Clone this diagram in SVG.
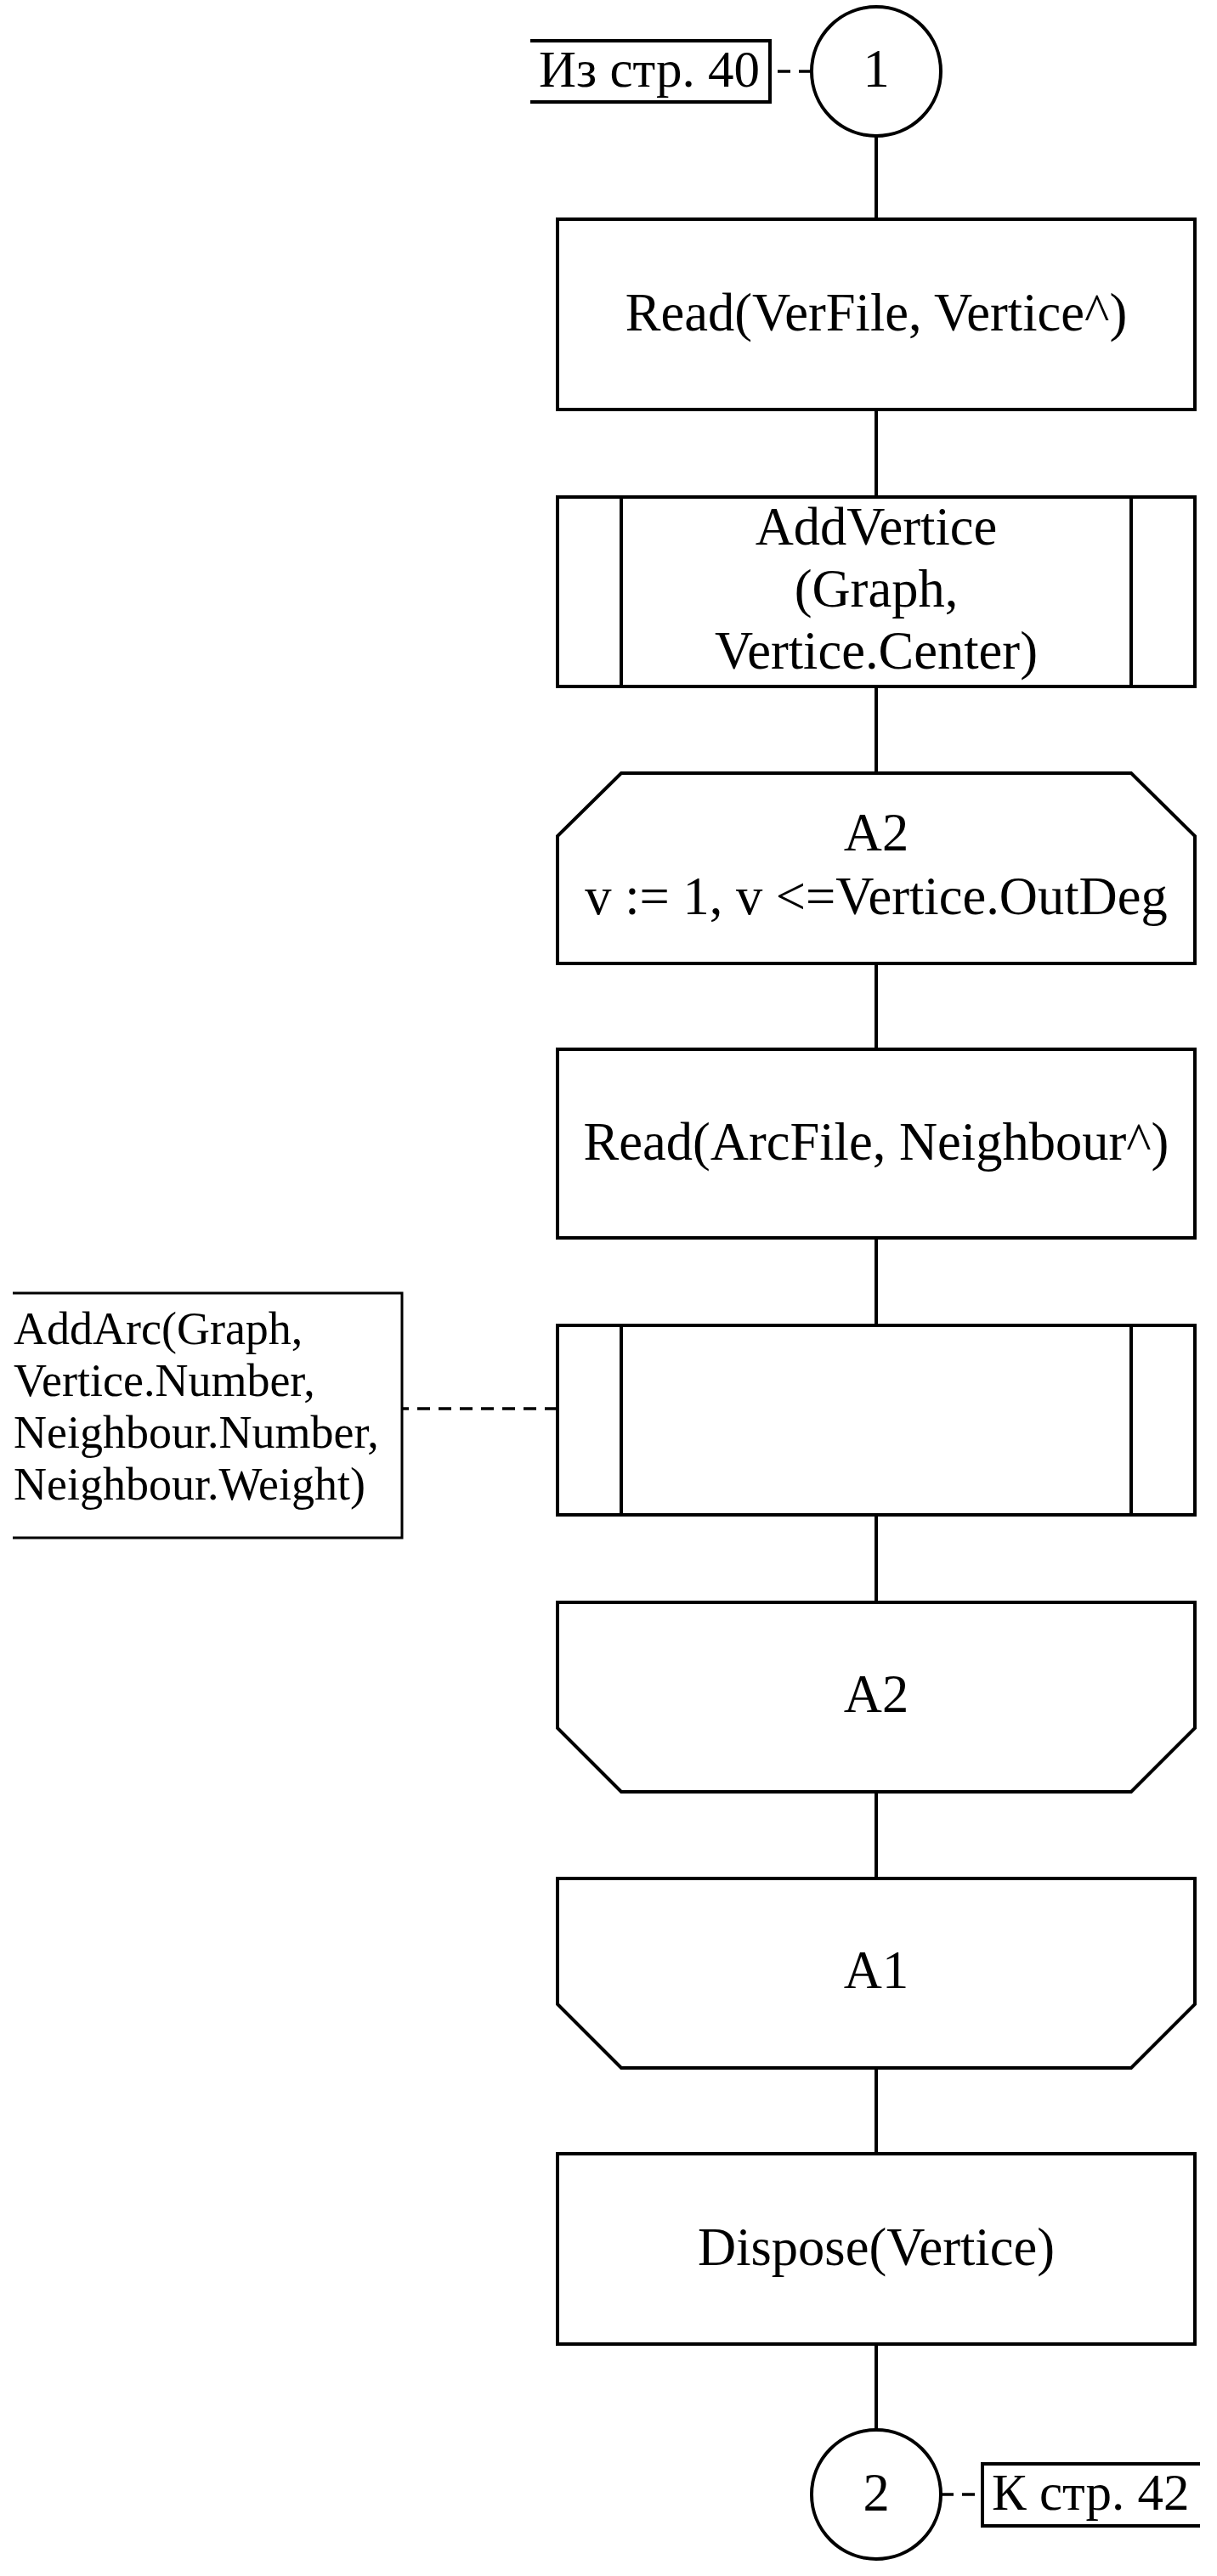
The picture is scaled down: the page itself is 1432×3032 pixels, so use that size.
<svg xmlns="http://www.w3.org/2000/svg" width="1432" height="3032" viewBox="0 0 1432 3032">
<style>
.s{fill:#fff;stroke:#000;stroke-width:4}
.n{fill:none;stroke:#000;stroke-width:4}
.d{fill:none;stroke:#000;stroke-width:3.5;stroke-dasharray:15,10}
.t{font-family:"Liberation Serif","Times New Roman",serif;font-size:62.5px;fill:#000;text-anchor:middle}
.a{font-family:"Liberation Serif","Times New Roman",serif;font-size:54px;fill:#000}
.l{font-family:"Liberation Serif","Times New Roman",serif;font-size:61px;fill:#000}
</style>
<rect width="1432" height="3032" fill="#fff"/>
<g id="connectors">
<line class="n" x1="1031" y1="160" x2="1031" y2="258"/>
<line class="n" x1="1031" y1="482" x2="1031" y2="585"/>
<line class="n" x1="1031" y1="808" x2="1031" y2="910"/>
<line class="n" x1="1031" y1="1134" x2="1031" y2="1235"/>
<line class="n" x1="1031" y1="1457" x2="1031" y2="1560"/>
<line class="n" x1="1031" y1="1783" x2="1031" y2="1886"/>
<line class="n" x1="1031" y1="2109" x2="1031" y2="2211"/>
<line class="n" x1="1031" y1="2434" x2="1031" y2="2535"/>
<line class="n" x1="1031" y1="2759" x2="1031" y2="2860"/>
<line class="d" x1="955" y1="84" x2="906" y2="84"/>
<line class="d" x1="1107" y1="2936" x2="1156" y2="2936"/>
<line class="d" x1="656" y1="1658" x2="473" y2="1658"/>
</g>
<g id="start-connector">
<circle class="s" cx="1031" cy="84" r="76"/>
<text class="t" x="1031" y="102">1</text>
</g>
<g id="from-page">
<polyline class="n" points="624,48 906,48 906,120 624,120"/>
<text class="l" x="634" y="102">Из стр. 40</text>
</g>
<g id="read-verfile">
<rect class="s" x="656" y="258" width="750" height="224"/>
<text class="t" x="1031" y="389">Read(VerFile, Vertice^)</text>
</g>
<g id="add-vertice">
<rect class="s" x="656" y="585" width="750" height="223"/>
<line class="n" x1="731" y1="585" x2="731" y2="808"/>
<line class="n" x1="1331" y1="585" x2="1331" y2="808"/>
<text class="t" x="1031" y="641">AddVertice</text>
<text class="t" x="1031" y="714">(Graph,</text>
<text class="t" x="1031" y="787">Vertice.Center)</text>
</g>
<g id="loop-a2-start">
<polygon class="s" points="731,910 1331,910 1406,984 1406,1134 656,1134 656,984"/>
<text class="t" x="1031" y="1001">A2</text>
<text class="t" x="1031" y="1076">v := 1, v &lt;=Vertice.OutDeg</text>
</g>
<g id="read-arcfile">
<rect class="s" x="656" y="1235" width="750" height="222"/>
<text class="t" x="1031" y="1365">Read(ArcFile, Neighbour^)</text>
</g>
<g id="add-arc">
<rect class="s" x="656" y="1560" width="750" height="223"/>
<line class="n" x1="731" y1="1560" x2="731" y2="1783"/>
<line class="n" x1="1331" y1="1560" x2="1331" y2="1783"/>
</g>
<g id="add-arc-comment">
<polyline class="n" points="15,1522 473,1522 473,1810 15,1810" style="stroke-width:3"/>
<text class="a" x="16" y="1582">AddArc(Graph,</text>
<text class="a" x="16" y="1643">Vertice.Number,</text>
<text class="a" x="16" y="1704">Neighbour.Number,</text>
<text class="a" x="16" y="1765">Neighbour.Weight)</text>
</g>
<g id="loop-a2-end">
<polygon class="s" points="656,1886 1406,1886 1406,2034 1331,2109 731,2109 656,2034"/>
<text class="t" x="1031" y="2015">A2</text>
</g>
<g id="loop-a1-end">
<polygon class="s" points="656,2211 1406,2211 1406,2359 1331,2434 731,2434 656,2359"/>
<text class="t" x="1031" y="2340">A1</text>
</g>
<g id="dispose">
<rect class="s" x="656" y="2535" width="750" height="224"/>
<text class="t" x="1031" y="2666">Dispose(Vertice)</text>
</g>
<g id="end-connector">
<circle class="s" cx="1031" cy="2936" r="76"/>
<text class="t" x="1031" y="2955">2</text>
</g>
<g id="to-page">
<polyline class="n" points="1412,2900 1156,2900 1156,2973 1412,2973"/>
<text class="l" x="1167" y="2954">К стр. 42</text>
</g>
</svg>
